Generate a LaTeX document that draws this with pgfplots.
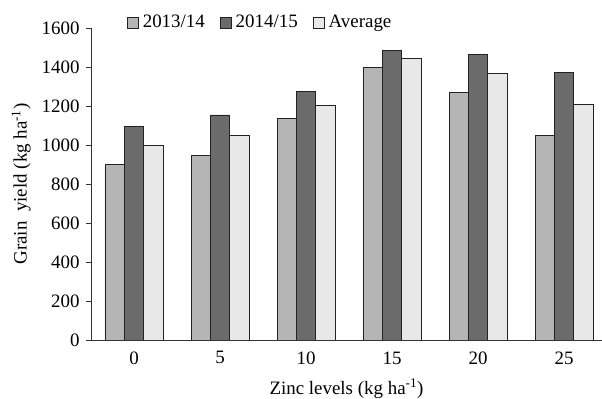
\documentclass[border=0pt]{standalone}
\usepackage{pgfplots}
\pgfplotsset{compat=1.18}
\usepackage{fontspec}
\setmainfont{Liberation Serif}
\definecolor{cA}{HTML}{B5B5B5}
\definecolor{cB}{HTML}{6B6B6B}
\definecolor{cC}{HTML}{E8E8E8}
\definecolor{edge}{HTML}{222222}
\begin{document}
\fontsize{19}{22}\selectfont
\begin{tikzpicture}
\begin{axis}[
  scale only axis,
  width=511bp, height=312bp,
  xmin=-0.5, xmax=5.44,
  ymin=0, ymax=1600,
  axis lines=left,
  axis line style={-, draw=black!80, line width=0.8pt},
  ytick={0,200,...,1600},
  xtick={0,...,5},
  xticklabels={0,5,10,15,20,25},
  x tick style={draw=none},
  extra x ticks={0.5,1.5,2.5,3.5,4.5},
  extra x tick labels={},
  extra x tick style={tick style={draw=black!80, line width=0.8pt}, major tick length=5bp, tick align=outside},
  y tick style={draw=black!80, line width=0.8pt},
  major tick length=5bp,
  tick align=outside,
  /pgf/number format/assume math mode=true,
  /pgf/number format/1000 sep={},
  ybar=0pt,
  bar width=0.225,
  xlabel={Zinc levels (kg ha\textsuperscript{-1})},
  ylabel={Grain\ \ yield (kg ha\textsuperscript{-1})},
  xlabel style={yshift=8bp},
  ylabel style={yshift=-2bp},
  legend columns=3,
  legend style={at={(0.065,1.016)}, anchor=west, draw=none, fill=none,
    /tikz/every even column/.append style={column sep=12bp},
    nodes={inner xsep=3.5bp}},
  legend image code/.code={\draw[#1] (0bp,-5bp) rectangle (11bp,6bp);},
  every axis plot/.append style={draw=edge, line width=0.9pt},
]
\addplot[fill=cA] coordinates {(0,899) (1,945) (2,1135) (3,1398) (4,1270) (5,1051)};
\addplot[fill=cB] coordinates {(0,1096) (1,1154) (2,1273) (3,1484) (4,1465) (5,1373)};
\addplot[fill=cC] coordinates {(0,997) (1,1048) (2,1203) (3,1443) (4,1368) (5,1210)};
\legend{2013/14,2014/15,Average}
\end{axis}
\pgfresetboundingbox
\path ([xshift=-91bp,yshift=-59bp]current axis.south west) rectangle ([yshift=28bp]current axis.north east);
\end{tikzpicture}
\end{document}
